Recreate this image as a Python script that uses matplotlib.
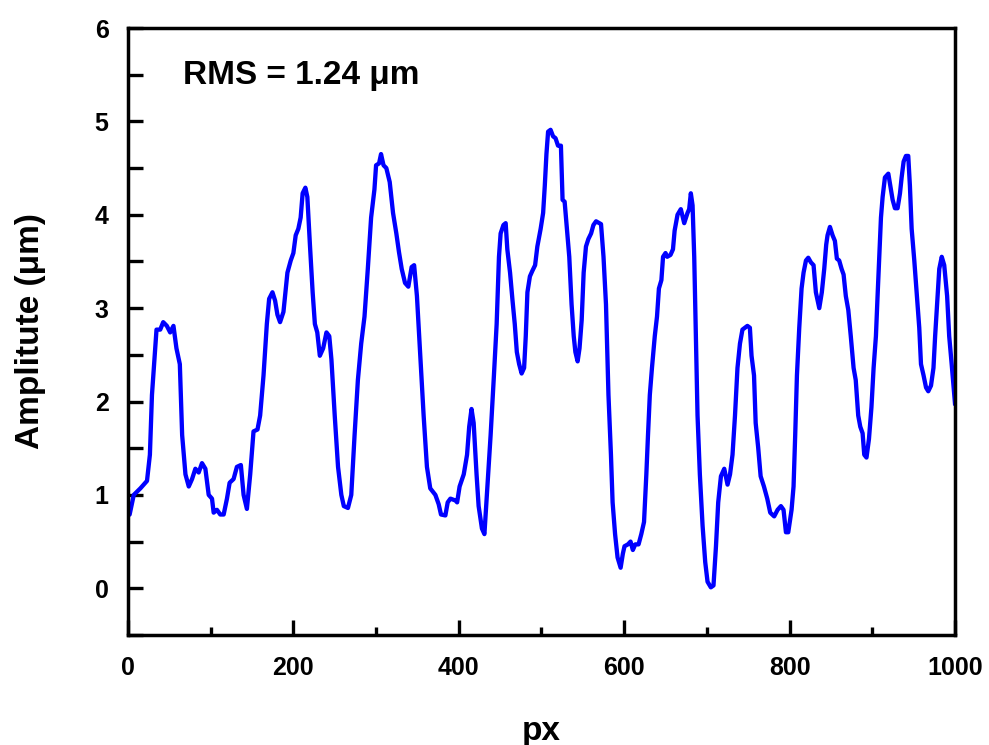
import numpy as np
import matplotlib
matplotlib.use("Agg")
import matplotlib.pyplot as plt
from matplotlib.ticker import MultipleLocator

# position along the profile (px) and amplitude (um)
position = [
    0, 2, 7, 15, 23, 26.5, 29, 34.5, 39, 42.6,
    47, 51, 55, 58.6, 62.7, 65.5, 69.5, 73.5, 77.5, 81.5,
    85.5, 89.5, 93.6, 97.6, 101.6, 103.6, 107.6, 111.6, 115.7, 119.7,
    122.9, 127.7, 131.7, 136.5, 139.8, 143.8, 147.8, 151.8, 156.6, 159.8,
    163.9, 167.9, 170.7, 174.7, 177.9, 180.7, 183.9, 188, 190.8, 192.8,
    196.8, 200, 202.8, 206, 208.8, 211.2, 214.5, 216.9, 220, 223.3,
    226, 228.9, 232, 236, 240, 243.4, 246, 250, 254, 258,
    261, 266, 270, 274, 278, 282, 286, 290, 294, 298,
    300, 303.6, 306, 309, 312.4, 316.5, 320.5, 324.5, 327.7, 331,
    335, 339, 343, 346, 349.4, 353.4, 357.5, 361.5, 365.5, 371.7,
    375.7, 378.5, 383.8, 386.6, 389.9, 396, 398, 401, 406, 410,
    412.6, 415.4, 418, 421.5, 424, 428, 431, 434, 438.5, 442.5,
    445.8, 448.6, 450.6, 454, 456.7, 458.7, 462, 465, 467.7, 470.2,
    473, 476, 479, 481, 483, 486, 489, 492.3, 495, 499,
    502, 504, 506, 508, 511, 514, 517, 520, 523.5, 525.5,
    528, 530.8, 533.6, 536.4, 539, 541, 543.7, 546, 548.6, 551,
    553.8, 556.7, 560, 562.8, 566, 572, 575, 578, 581, 584,
    586, 589, 592, 595.7, 598.4, 600.4, 604.5, 607.7, 610.5, 613.4,
    617.4, 620.7, 624, 626.8, 628.8, 631, 633.6, 637, 639.7, 642,
    645, 647, 650, 652, 656, 659, 661, 664.5, 668.5, 672.6,
    676.6, 678.6, 680.6, 682.7, 684.7, 686.7, 688.7, 691.5, 694.8, 698,
    700.8, 704.8, 708, 711, 713.7, 717, 721, 725, 728, 731,
    734, 737, 740, 743, 749, 752, 754, 757, 759, 762,
    765, 769, 773, 776.6, 781.4, 785.5, 789.5, 792.7, 795.6, 798.4,
    802.4, 804.8, 806.8, 808.9, 811.7, 814.5, 816.9, 819.8, 822.6, 825.8,
    829, 831.8, 835.9, 839, 841.9, 844.3, 845.9, 848.8, 852, 854.8,
    857.2, 860, 862.9, 865.3, 868, 871, 874, 877.4, 880, 883,
    885.5, 888.3, 890.3, 893, 896, 899, 901.6, 904.4, 906.4, 908.5,
    910.5, 912.5, 915.3, 919.4, 922.6, 924.6, 927.4, 930.6, 933.5, 935.5,
    937.9, 940.7, 943.5, 945.5, 947.6, 950.8, 954, 956.8, 958.9, 962,
    965, 967.7, 971, 974, 976, 979, 981, 984, 987, 990.5,
    993, 996, 1000,
]
amplitude = [
    0.78, 0.79, 1.0, 1.07, 1.15, 1.43, 2.07, 2.77, 2.77, 2.85,
    2.81, 2.74, 2.81, 2.57, 2.4, 1.64, 1.22, 1.09, 1.17, 1.28,
    1.24, 1.34, 1.28, 1.0, 0.96, 0.81, 0.84, 0.79, 0.79, 0.96,
    1.13, 1.17, 1.3, 1.32, 1.0, 0.85, 1.22, 1.68, 1.7, 1.85,
    2.28, 2.83, 3.1, 3.17, 3.08, 2.93, 2.85, 2.96, 3.21, 3.38,
    3.51, 3.59, 3.78, 3.85, 3.97, 4.23, 4.29, 4.19, 3.68, 3.17,
    2.83, 2.74, 2.49, 2.57, 2.74, 2.7, 2.45, 1.85, 1.3, 1.0,
    0.88, 0.86, 1.0, 1.64, 2.23, 2.62, 2.91, 3.42, 3.97, 4.27,
    4.53, 4.55, 4.65, 4.53, 4.5, 4.35, 4.02, 3.8, 3.6, 3.42,
    3.27, 3.23, 3.44, 3.46, 3.13, 2.49, 1.85, 1.3, 1.07, 1.0,
    0.9, 0.79, 0.78, 0.92, 0.96, 0.94, 0.92, 1.09, 1.22, 1.43,
    1.73, 1.92, 1.77, 1.22, 0.88, 0.64, 0.58, 1.0, 1.64, 2.28,
    2.83, 3.55, 3.8, 3.89, 3.91, 3.63, 3.38, 3.08, 2.83, 2.53,
    2.4, 2.3, 2.36, 2.7, 3.17, 3.34, 3.4, 3.46, 3.66, 3.85,
    4.02, 4.31, 4.65, 4.89, 4.91, 4.84, 4.82, 4.74, 4.74, 4.16,
    4.14, 3.85, 3.55, 3.04, 2.7, 2.53, 2.43, 2.57, 2.87, 3.38,
    3.66, 3.74, 3.8, 3.89, 3.93, 3.9, 3.55, 3.04, 2.07, 1.43,
    0.92, 0.58, 0.33, 0.22, 0.37, 0.45, 0.47, 0.5, 0.41, 0.47,
    0.47, 0.58, 0.71, 1.22, 1.64, 2.07, 2.36, 2.7, 2.91, 3.21,
    3.3, 3.55, 3.59, 3.55, 3.57, 3.63, 3.83, 4.0, 4.06, 3.91,
    4.02, 4.06, 4.23, 4.1, 3.55, 2.7, 1.85, 1.22, 0.67, 0.28,
    0.07, 0.01, 0.03, 0.45, 0.92, 1.2, 1.28, 1.11, 1.22, 1.43,
    1.85, 2.36, 2.62, 2.77, 2.81, 2.79, 2.49, 2.28, 1.77, 1.51,
    1.2, 1.09, 0.96, 0.81, 0.77, 0.84, 0.88, 0.84, 0.6, 0.6,
    0.84, 1.09, 1.64, 2.28, 2.79, 3.21, 3.38, 3.51, 3.54, 3.49,
    3.46, 3.17, 3.0, 3.17, 3.42, 3.68, 3.78, 3.87, 3.78, 3.72,
    3.53, 3.51, 3.42, 3.36, 3.13, 2.98, 2.7, 2.36, 2.23, 1.85,
    1.73, 1.66, 1.43, 1.4, 1.6, 1.94, 2.36, 2.7, 3.13, 3.55,
    3.97, 4.19, 4.4, 4.44, 4.27, 4.16, 4.07, 4.07, 4.23, 4.4,
    4.57, 4.63, 4.63, 4.31, 3.85, 3.51, 3.13, 2.79, 2.4, 2.28,
    2.15, 2.11, 2.17, 2.36, 2.7, 3.13, 3.42, 3.55, 3.46, 3.13,
    2.7, 2.4, 1.98,
]
rms_label = "RMS = 1.24 μm"

plt.rcParams['font.family'] = ['Liberation Sans', 'DejaVu Sans']
plt.rcParams['font.weight'] = 'bold'

fig = plt.figure(figsize=(9.89, 7.45), dpi=100)
ax = fig.add_axes([0.1294, 0.1477, 0.8362, 0.8147])

ax.plot(position, amplitude, color='#0000FF', lw=3.1)

ax.set_xlim(0, 1000)
ax.set_ylim(-0.5, 6)
ax.xaxis.set_major_locator(MultipleLocator(200))
ax.xaxis.set_minor_locator(MultipleLocator(100))
ax.yaxis.set_major_locator(MultipleLocator(1))
ax.yaxis.set_minor_locator(MultipleLocator(0.5))

ax.tick_params(axis='x', which='major', direction='in', length=11, width=2.4,
               labelsize=18, pad=15)
ax.tick_params(axis='x', which='minor', direction='in', length=6, width=2.4)
ax.tick_params(axis='y', which='both', direction='in', length=11, width=2.4,
               labelsize=18, pad=14)
for lab in ax.get_xticklabels() + ax.get_yticklabels():
    lab.set_fontweight('bold')
for s in ax.spines.values():
    s.set_linewidth(2.5)

ax.set_xlabel('px', fontsize=24, fontweight='bold', labelpad=26)
ax.set_ylabel('Amplitute (μm)', fontsize=24, fontweight='bold', labelpad=35)

ax.text(0.066, 0.922, rms_label, transform=ax.transAxes, fontsize=24,
        fontweight='bold', va='center', ha='left')

fig.savefig('out.png', dpi=100)
